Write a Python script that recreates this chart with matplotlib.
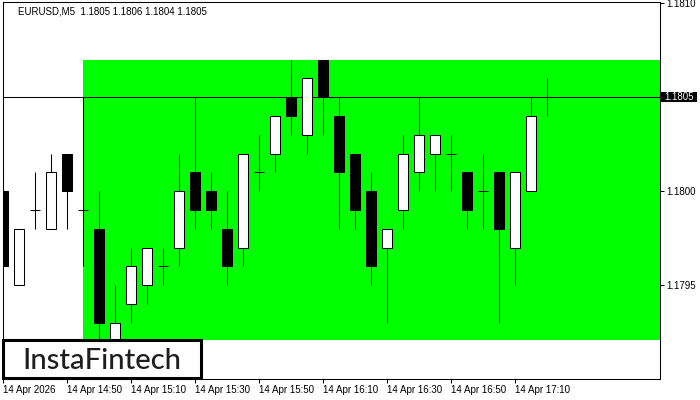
import numpy as np
import matplotlib
matplotlib.use("Agg")
import matplotlib.pyplot as plt
from matplotlib.patches import Rectangle
import matplotlib.transforms as mtransforms

plt.rcParams['font.family'] = ['Liberation Sans', 'DejaVu Sans']

# EURUSD M5 candles, 14 Apr 14:30 .. 17:20
opens  = [1.1800, 1.1795, 1.1799, 1.1798, 1.1802, 1.1799, 1.1798, 1.1792, 1.1794, 1.1795,
          1.1796, 1.1797, 1.1801, 1.1800, 1.1798, 1.1797, 1.1801, 1.1802, 1.1805, 1.1803,
          1.1807, 1.1804, 1.1802, 1.1800, 1.1797, 1.1799, 1.1801, 1.1802, 1.1802, 1.1801,
          1.1800, 1.1801, 1.1797, 1.1800, 1.1805]
highs  = [1.1801, 1.1798, 1.1801, 1.1802, 1.1802, 1.1805, 1.1800, 1.1795, 1.1797, 1.1797,
          1.1797, 1.1802, 1.1805, 1.1801, 1.1800, 1.1802, 1.1803, 1.1804, 1.1807, 1.1806,
          1.1807, 1.1805, 1.1802, 1.1801, 1.1798, 1.1803, 1.1805, 1.1803, 1.1803, 1.1801,
          1.1802, 1.1801, 1.1801, 1.1805, 1.1806]
lows   = [1.1796, 1.1795, 1.1798, 1.1798, 1.1798, 1.1796, 1.1792, 1.1792, 1.1793, 1.1794,
          1.1795, 1.1796, 1.1798, 1.1798, 1.1795, 1.1796, 1.1800, 1.1801, 1.1803, 1.1802,
          1.1803, 1.1798, 1.1798, 1.1795, 1.1793, 1.1798, 1.1800, 1.1800, 1.1800, 1.1798,
          1.1798, 1.1793, 1.1795, 1.1800, 1.1804]
closes = [1.1796, 1.1798, 1.1799, 1.1801, 1.1800, 1.1799, 1.1793, 1.1793, 1.1796, 1.1797,
          1.1796, 1.1800, 1.1799, 1.1799, 1.1796, 1.1802, 1.1801, 1.1804, 1.1804, 1.1806,
          1.1805, 1.1801, 1.1799, 1.1796, 1.1798, 1.1802, 1.1803, 1.1803, 1.1802, 1.1799,
          1.1800, 1.1798, 1.1801, 1.1804, 1.1805]

time_labels = ["14 Apr 2026", "14 Apr 14:50", "14 Apr 15:10", "14 Apr 15:30", "14 Apr 15:50",
               "14 Apr 16:10", "14 Apr 16:30", "14 Apr 16:50", "14 Apr 17:10"]
price_ticks = [1.1795, 1.1800, 1.1805, 1.1810]
last_price = 1.1805

# green zone
zone_start = 5
zone_top = 1.18070
zone_bottom = 1.17921

header = "EURUSD,M5  1.1805 1.1806 1.1804 1.1805"

x = np.arange(len(opens))
o = np.array(opens); h = np.array(highs); l = np.array(lows); c = np.array(closes)

fig = plt.figure(figsize=(7, 4), dpi=100)
ax = fig.add_axes([2.7/700, 1 - 378.5/400, 657/700, 376.2/400])
ax.set_xlim(-0.02, 41.04)
ax.set_ylim(1.179004, 1.181005)

lw = 0.75
ax.add_patch(Rectangle((zone_start, zone_bottom), 60, zone_top - zone_bottom,
                       facecolor='#00ff00', edgecolor='none', zorder=1))
ax.axhline(last_price, color='black', lw=lw, zorder=2)

ax.vlines(x, l, h, color='black', lw=lw, zorder=3)
up = c > o
down = c < o
doji = c == o
ax.bar(x[up], (c - o)[up], bottom=o[up], width=0.6, facecolor='white',
       edgecolor='black', linewidth=lw, zorder=4)
ax.bar(x[down], (o - c)[down], bottom=c[down], width=0.6, facecolor='black',
       edgecolor='black', linewidth=lw, zorder=4)
ax.hlines(o[doji], x[doji] - 0.33, x[doji] + 0.33, color='black', lw=lw, zorder=4)

for s in ax.spines.values():
    s.set_linewidth(lw)

ax.set_xticks(np.arange(len(time_labels)) * 4)
ax.set_xticklabels(time_labels, ha='left', fontsize=7)
ax.yaxis.tick_right()
ax.set_yticks(price_ticks)
ax.set_yticklabels(["" if p == last_price else "%.4f" % p for p in price_ticks], fontsize=7)
ax.tick_params(axis='both', length=3, width=lw, pad=1.5, colors='black')

# last price label
trans = mtransforms.blended_transform_factory(ax.transAxes, ax.transData)
ax.add_patch(Rectangle((1.002, last_price - 0.0000277), 0.0548, 0.0000554,
                       transform=trans, facecolor='black', clip_on=False, zorder=10))
ax.text(1.0075, last_price, "%.4f" % last_price, transform=trans, color='white', fontsize=7,
        va='center', ha='left', clip_on=False, zorder=11)

fig.text(18/700, 1 - 11/400, header, fontsize=7, va='center', ha='left', color='black')

fig.patches.append(Rectangle((3/700, 1 - 378/400), 198/700, 38/400, transform=fig.transFigure,
                             facecolor='white', edgecolor='black', linewidth=2.2, zorder=20))
fig.text(101.5/700, 1 - 369.3/400, "InstaFintech", fontsize=21, family=['Lato', 'DejaVu Sans'],
         weight='medium', color='#1e1e1e', ha='center', va='baseline', zorder=21)

fig.savefig("out.png", dpi=100)
